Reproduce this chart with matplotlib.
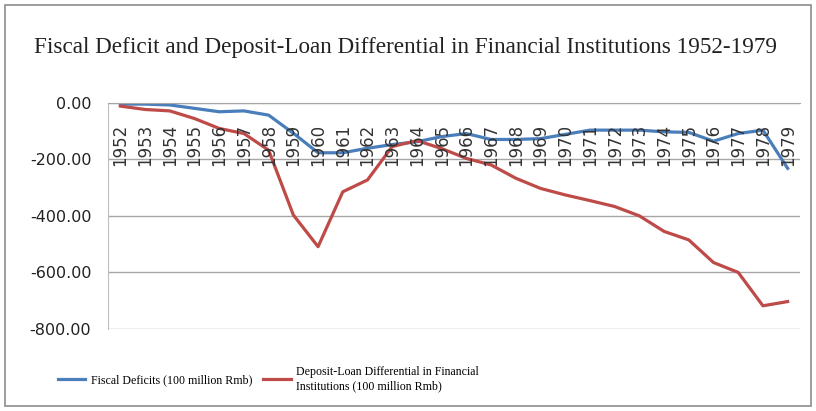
import matplotlib.pyplot as plt
from matplotlib.patches import Rectangle
import numpy as np

years = [str(y) for y in range(1952, 1980)]
fiscal_deficits = [-5, -5, -8, -20, -32, -29, -44, -108, -177, -177, -161, -148,
                   -138, -120, -109, -130, -130, -127, -112, -97, -97, -97, -103,
                   -105, -136, -109, -97, -232]
deposit_loan = [-12, -24, -29, -56, -91, -109, -168, -397, -509, -315, -273, -155,
                -134, -162, -197, -220, -267, -303, -326, -346, -367, -400, -455,
                -485, -565, -600, -718, -703]
y_ticks = [0, -200, -400, -600, -800]

W, H = 816, 411
fig = plt.figure(figsize=(W / 100, H / 100), dpi=100)
fig.patch.set_facecolor('white')
ax = fig.add_axes([108 / W, 1 - 329 / H, (800 - 108) / W, (329 - 102.7) / H])

x = np.arange(len(years))
ax.plot(x, fiscal_deficits, color='#4A7EBB', lw=2.3, label='Fiscal Deficits (100 million Rmb)')
ax.plot(x, deposit_loan, color='#BE4B48', lw=2.3,
        label='Deposit-Loan Differential in Financial\nInstitutions (100 million Rmb)')

ax.set_xlim(-0.5, len(years) - 0.5)
ax.set_ylim(-800, 0)
ax.set_yticks(y_ticks)
ax.set_yticklabels(['%.2f' % v for v in y_ticks], fontsize=11.5, color='#222222')
ax.yaxis.grid(True, color='#A6A6A6', lw=1)
ax.set_axisbelow(True)
ax.set_xticks([])
ax.tick_params(axis='y', length=0, pad=12)
for s in ['right', 'bottom']:
    ax.spines[s].set_visible(False)
ax.spines['left'].set_color('#BFBFBF')
ax.spines['top'].set_color('#A6A6A6')

for i, yr in enumerate(years):
    ax.text(i, 0.905, yr, transform=ax.get_xaxis_transform(), rotation=90,
            ha='center', va='top', fontsize=12, color='#333333')

fig.text(406 / W, 1 - 47 / H,
         'Fiscal Deficit and Deposit-Loan Differential in Financial Institutions 1952-1979',
         ha='center', va='center', fontsize=16.7, family='Liberation Serif', color='#222222')

fig.legend(loc='center left', bbox_to_anchor=(58 / W, 1 - 379 / H), ncol=2, frameon=False,
           prop={'family': 'Liberation Serif', 'size': 8.6}, handlelength=2.3,
           columnspacing=0.9, handletextpad=0.45, borderpad=0, borderaxespad=0,
           labelspacing=0.3)

fig.add_artist(Rectangle((5 / W, 5 / H), 806 / W, 401 / H, transform=fig.transFigure,
                         fill=False, edgecolor='#8C8C8C', lw=1.2))

fig.savefig('out.png', dpi=100)
